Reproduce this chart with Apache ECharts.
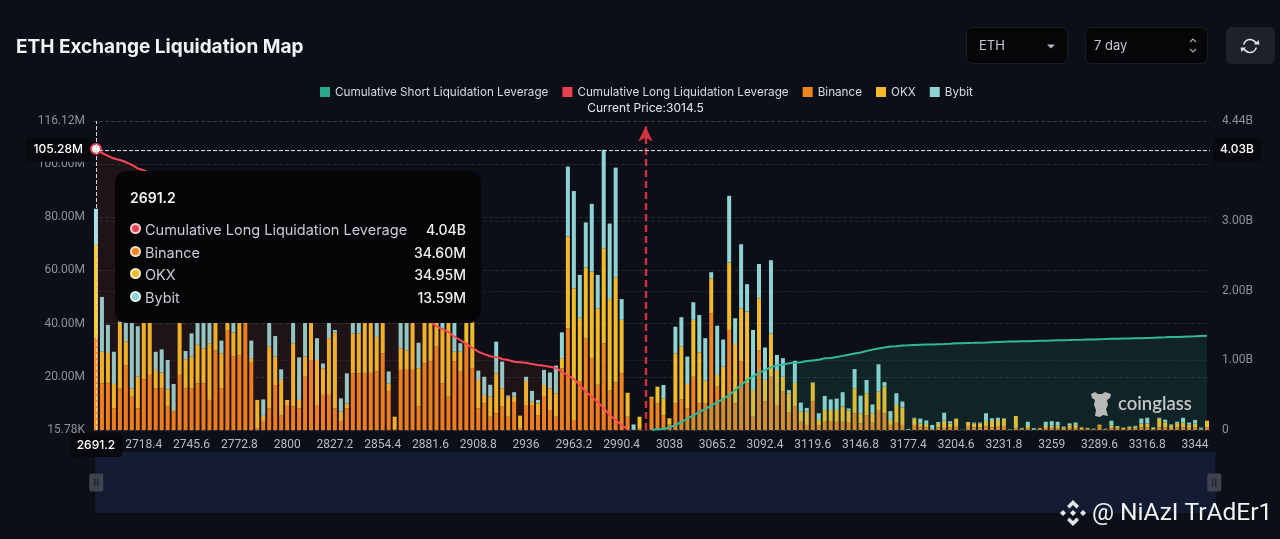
<!DOCTYPE html>
<html><head><meta charset="utf-8">
<style>html,body{margin:0;padding:0;background:#0c0f17;}#c{width:1280px;height:539px;}</style>
<script src="https://cdn.jsdelivr.net/npm/echarts@6/dist/echarts.min.js"></script>
</head><body><div id="c"></div>
<script>
const titleText = 'ETH Exchange Liquidation Map';
const currentPrice = '3014.5';
const axisMinLabel = '15.78K';
const pointerY = 149.85;
const categories = [2691.2,2694.6,2698,2701.4,2704.8,2708.2,2711.6,2715,2718.4,2721.8,2725.2,2728.6,2732,2735.4,2738.8,2742.2,2745.6,2749,2752.4,2755.8,2759.2,2762.6,2766,2769.4,2772.8,2776.2,2779.6,2783,2786.4,2789.8,2793.2,2796.6,2800,2803.4,2806.8,2810.2,2813.6,2817,2820.4,2823.8,2827.2,2830.6,2834,2837.4,2840.8,2844.2,2847.6,2851,2854.4,2857.8,2861.2,2864.6,2868,2871.4,2874.8,2878.2,2881.6,2885,2888.4,2891.8,2895.2,2898.6,2902,2905.4,2908.8,2912.2,2915.6,2919,2922.4,2925.8,2929.2,2932.6,2936,2939.4,2942.8,2946.2,2949.6,2953,2956.4,2959.8,2963.2,2966.6,2970,2973.4,2976.8,2980.2,2983.6,2987,2990.4,2993.8,2997.2,3007.4,3014.5,3021,3024.4,3031.2,3038,3041.4,3044.8,3048.2,3051.6,3055,3058.4,3061.8,3065.2,3068.6,3072,3075.4,3078.8,3082.2,3085.6,3089,3092.4,3095.8,3099.2,3102.6,3106,3109.4,3112.8,3116.2,3119.6,3123,3126.4,3129.8,3133.2,3136.6,3140,3143.4,3146.8,3150.2,3153.6,3157,3160.4,3163.8,3170.6,3174,3177.4,3180.8,3184.2,3187.6,3191,3194.4,3197.8,3201.2,3204.6,3208,3211.4,3214.8,3218.2,3221.6,3225,3228.4,3231.8,3235.2,3238.6,3242,3245.4,3248.8,3252.2,3255.6,3259,3262.4,3265.8,3269.2,3272.6,3276,3279.4,3286.2,3289.6,3293,3296.4,3299.8,3303.2,3306.6,3310,3313.4,3316.8,3320.2,3323.6,3327,3330.4,3333.8,3337.2,3340.6,3344,3347.4,3350.8].map(String);
const binance = [34.6,17.5,17.5,8.1,15.7,24.4,12.5,8.1,19,20.7,15.7,15.7,8.8,6.9,20.7,15.7,15.7,17.5,17.5,11.3,30,15.7,37.6,27.6,28.2,39.6,25.3,0.5,3.1,8.1,16.9,5.6,9.4,8.8,8.1,20,26.3,9.4,13.2,13.2,8.1,3.4,8.1,21.3,21.3,21.3,21.5,22,28.8,14.4,0.3,22.6,22.6,22.6,8.8,25,25.7,31.3,17.5,12.5,25.7,21.9,32.6,23.2,8.1,10,5,6.3,8.8,5,10.5,0.5,9.4,9.4,5.6,12.5,7.5,5,23.2,38.2,3.8,18.2,34.5,27,17,32.6,15,17.9,21.3,5,0,0.5,0,12,10,5.6,2,10,11.5,8.1,20,10,10,43.9,16.3,11.3,37.6,10,25.7,17.5,5,30,10.7,20,9.4,14.4,6.5,8.8,3.1,1.9,10.7,1.9,3.1,3.1,3.1,3.1,3,6.3,2.5,5.6,3,7.5,6.3,1.9,3,1.9,0,1.9,1.2,1,0.1,1,0.8,1,1.5,0,1.2,1,1,1.3,1,1.5,1.5,0.1,0.8,0.2,0.5,0,0.5,0.5,0.6,0.6,0.4,0.6,0.7,0.4,0.3,0.2,1.4,0.2,0.6,0.5,0.4,0.5,0.6,1,1,0.3,1,1,0.8,1,1,0.8,1,0.2,1];
const okx = [34.95,11.9,11.4,9.2,24.5,8.8,3.2,11.9,25,25,6.9,5.9,6.5,0.6,25,10.9,11.9,14.5,13.2,21.3,12,13.1,10,9,21,8,1.7,10.8,2.2,23.2,10.7,13.2,1.9,23.8,3.2,7.6,19,16.9,10,21.3,28.5,3.5,1.9,15,15,25,24,13,15,3.1,4.7,8.1,7.4,21.4,14.4,19,20.3,16.7,20.5,33.5,3.7,7.5,11.4,18.8,10.7,3.2,7.5,15,6.9,7.5,2,4.9,9,1.2,4.4,4.4,8.2,8.8,3.8,34.5,49.5,24,26.5,32.5,28.7,35.7,34.2,39.5,20.1,9,0.1,4.5,0,0.5,6.3,6.3,2.4,18.8,19.8,9.2,21.4,19.2,8.5,13.1,4.4,12.5,25.3,22.3,20,27,10,19.5,8.1,16.3,13.2,5.6,7.3,8.9,3.8,5,7,1.9,4.4,4.4,4.4,5.7,4.3,9.4,3.8,8.2,3.3,6.9,10,1.9,6.4,6.6,0.1,2.5,1.3,1.3,0.3,1.3,2.7,1.5,2.8,0,1.8,1.5,1.5,2.1,2.4,2.3,2.7,0.1,4.5,0.4,1,0.2,0.3,1,1,1,0.6,1.2,1.2,0.6,0.4,0.2,0.6,0.2,1.2,0.7,0.5,0.6,0.7,1.4,1.5,0.5,3.2,1.9,1,1.6,1.8,1.2,1.4,0.3,2.5];
const bybit = [13.59,20.6,10.6,12.1,0.5,13,26,19,0.5,0.5,6.8,8.7,11,9.8,0.3,3.1,8.7,12,15,15,0.3,4.8,2,15,1,0.3,6.6,0,6.2,10.7,7.7,4,0,11.4,16,17,0.7,8.2,1.8,7.5,1,5,11.3,5.7,9.7,0.4,0.5,11,0.2,4.5,0,13.3,12,0,9.6,0,0,0,4,0,12.6,3.2,0,0,3.5,6.8,4.5,11.9,10,0.5,1.7,0,1.6,4.1,1.3,5.7,5.9,10.4,9.7,26.3,36.5,16.1,17,25.5,12.6,37,28.4,41.2,7.8,0,2,0,0,0,0,5,0,10,11.1,10.3,6.6,14,16,2.3,18.5,10.2,25.1,9.7,24.1,10.3,22.6,12.9,12.2,27.5,5.6,7,1.2,8.3,3.4,1.4,0.2,2.5,5.3,4,4.3,5.4,0.8,7.2,6.6,5,3.3,10.3,1.7,3.3,4.4,2.2,0.3,0.2,1.8,1.3,1.5,0.7,3,0.8,0,0.1,0,0.3,0.3,2.9,1,0.8,0.2,0.1,0,0.2,1.6,0.5,0,1.6,1.7,1.5,0.3,0.7,0.9,0,0.1,0.1,0,0.1,1.7,0.3,0,0.2,0.3,1.9,2.1,0.2,0.4,1,0.3,0.5,1.8,0.8,1.4,0.4,0];
const longLev = [4.04,3.98,3.94,3.90,3.88,3.85,3.81,3.76,3.73,3.69,3.65,3.61,3.57,3.54,3.50,3.45,3.40,3.36,3.31,3.27,3.22,3.18,3.13,3.08,3.03,2.98,2.93,2.90,2.88,2.85,2.81,2.78,2.75,2.71,2.67,2.62,2.56,2.51,2.47,2.43,2.38,2.35,2.32,2.27,2.21,2.15,2.09,2.03,1.98,1.95,1.94,1.89,1.84,1.78,1.74,1.64,1.56,1.49,1.45,1.41,1.34,1.29,1.24,1.18,1.125,1.09,1.06,1.05,1.02,1.006,0.98,0.975,0.967,0.948,0.934,0.924,0.91,0.89,0.838,0.78,0.733,0.647,0.55,0.479,0.40,0.314,0.216,0.144,0.072,0.01];
const shortStart = 93;
const shortLev = [0.004,0.01,0.015,0.04,0.07,0.115,0.165,0.21,0.26,0.30,0.35,0.40,0.445,0.50,0.575,0.645,0.72,0.77,0.82,0.86,0.905,0.925,0.94,0.96,0.965,0.975,0.99,1.0,1.01,1.03,1.035,1.05,1.065,1.08,1.10,1.115,1.135,1.155,1.17,1.185,1.20,1.205,1.215,1.218,1.222,1.225,1.228,1.23,1.233,1.236,1.24,1.245,1.248,1.25,1.252,1.255,1.258,1.262,1.265,1.268,1.27,1.272,1.275,1.277,1.28,1.282,1.284,1.287,1.289,1.29,1.292,1.295,1.297,1.30,1.302,1.304,1.306,1.31,1.312,1.314,1.316,1.318,1.32,1.323,1.325,1.33,1.332,1.335,1.337,1.34,1.343,1.346,1.35,1.353];

const C = {short:'#2ba88e', long:'#e9414f', binance:'#ee8420', okx:'#f2bb2a', bybit:'#8fd3d3'};
const fontMain = 'Inter, Roboto, sans-serif';
const fmtM = v => v.toFixed(2)+'M';
const fmtAxisM = v => v === 0 ? axisMinLabel : fmtM(v);
const fmtB = v => v === 0 ? '0' : v.toFixed(2)+'B';
const longData = categories.map((_,i)=> i < longLev.length ? longLev[i] : null);
const shortData = categories.map((_,i)=> i >= shortStart ? shortLev[i-shortStart] : null);

const chart = echarts.init(document.getElementById('c'), null, {renderer:'canvas'});
const dot = (col)=>`<span style="display:inline-block;width:7px;height:7px;border-radius:50%;background:${col};border:2px solid rgba(255,255,255,.75);margin-right:4px;vertical-align:1px"></span>`;
const row = (col,name,val)=>`<div style="display:flex;justify-content:space-between;height:22.6px;line-height:22.6px"><span style="color:#c9ccd1;font-size:14.5px">${dot(col)}${name}</span><span style="color:#f2f2f2;font-weight:500;font-size:14px">${val}</span></div>`;
const top1 = {z:100};

const option = {
  animation:false,
  backgroundColor:'#0c0f17',
  textStyle:{fontFamily:fontMain},
  title:{text:titleText,left:11,top:33,textStyle:{color:'#f1f2f4',fontSize:19,fontWeight:700,fontFamily:'Inter'}},
  legend:{left:315,top:81,icon:'rect',itemWidth:10,itemHeight:10,itemGap:14,
    textStyle:{color:'#d8dade',fontSize:11.7,fontFamily:fontMain},
    data:['Cumulative Short Liquidation Leverage',
      {name:'Cumulative Long Liquidation Leverage',itemStyle:{color:C.long,borderWidth:0}},
      'Binance','OKX','Bybit']},
  grid:{left:93,right:70,top:121,height:309,containLabel:false},
  tooltip:{trigger:'axis',triggerOn:'none',alwaysShowContent:true,position:[115,171],
    backgroundColor:'#050507',borderWidth:0,padding:[17,15,14,15],
    extraCssText:'width:366px;height:152px;box-sizing:border-box;border-radius:12px;box-shadow:none;',
    textStyle:{color:'#fff',fontSize:15,fontFamily:fontMain},
    axisPointer:{type:'cross',crossStyle:{color:'#d5d7da',type:'dashed',width:1},
      lineStyle:{color:'#d5d7da',type:'dashed',width:1},
      label:{backgroundColor:'#08090c',color:'#fff',fontSize:12,fontWeight:500,padding:[6,7,6,7],borderRadius:3,shadowBlur:0,
        formatter:p=> p.axisDimension==='x' ? p.value : (p.axisIndex===0 ? fmtM(p.value) : fmtB(p.value))}},
    formatter:ps=>{
      const i = ps[0].dataIndex;
      return `<div style="font-size:14px;font-weight:600;color:#f4f4f4;height:31px;line-height:20px">${categories[i]}</div>`+
        row(C.long,'Cumulative Long Liquidation Leverage',longData[i].toFixed(2)+'B')+
        row(C.binance,'Binance',fmtM(binance[i]))+
        row(C.okx,'OKX',fmtM(okx[i]))+
        row(C.bybit,'Bybit',fmtM(bybit[i]));
    }},
  xAxis:{type:'category',data:categories,boundaryGap:true,
    axisLine:{show:false},axisTick:{show:false},
    axisLabel:{interval:7,color:'#b9bcc1',fontSize:12,margin:9,fontFamily:'Roboto'},splitLine:{show:false}},
  yAxis:[
    {type:'value',position:'left',min:0,max:116.12,interval:20,
     axisLine:{show:false},axisTick:{show:false},
     axisLabel:{color:'#8e9198',fontSize:12,margin:8,fontFamily:'Roboto',formatter:fmtAxisM,showMinLabel:true,showMaxLabel:true},
     splitLine:{lineStyle:{color:'rgba(255,255,255,.11)',type:'dashed'}}},
    {type:'value',position:'right',min:0,max:4.44,interval:1,
     axisLine:{show:false},axisTick:{show:false},
     axisLabel:{color:'#8e9198',fontSize:12,margin:12,fontFamily:'Roboto',formatter:fmtB,showMinLabel:true,showMaxLabel:true},
     splitLine:{lineStyle:{color:'rgba(255,255,255,.08)',type:'dashed'}}}],
  dataZoom:[{type:'slider',xAxisIndex:0,start:0,end:100,left:94,right:66,top:452,height:61,
    backgroundColor:'#131c33',fillerColor:'#131c33',borderColor:'transparent',showDetail:false,showDataShadow:false,
    brushSelect:false,moveHandleSize:0,handleSize:18,
    handleIcon:'path://M2,0H12a2,2,0,0,1,2,2V16a2,2,0,0,1-2,2H2a2,2,0,0,1-2-2V2A2,2,0,0,1,2,0ZM5,5V13H6V5ZM8,5V13H9V5Z',
    handleStyle:{color:'#3f434d',borderColor:'transparent'}}],
  series:[
    {name:'Cumulative Short Liquidation Leverage',type:'line',yAxisIndex:1,data:shortData,showSymbol:false,z:4,
     lineStyle:{color:C.short,width:2},itemStyle:{color:C.short},areaStyle:{color:'rgba(43,168,142,.17)'}},
    {name:'Cumulative Long Liquidation Leverage',type:'line',yAxisIndex:1,data:longData,showSymbol:false,z:4,symbol:'circle',symbolSize:9,
     lineStyle:{color:C.long,width:2},itemStyle:{color:'#fff',borderColor:C.long,borderWidth:2},areaStyle:{color:'rgba(200,60,30,.13)'},
     markLine:{silent:true,animation:false,symbol:['none','arrow'],symbolSize:[11,15],precision:2,
       lineStyle:{color:'#cf3340',type:[7,4],width:2.4},
       label:{position:'end',distance:12,color:'#e4e6e9',fontSize:12,fontFamily:fontMain,formatter:'Current Price:'+currentPrice},
       data:[[{xAxis:currentPrice,yAxis:0},{xAxis:currentPrice,yAxis:4.36}]]}},
    {name:'Binance',type:'bar',stack:'t',yAxisIndex:0,data:binance,barWidth:4,itemStyle:{color:C.binance}},
    {name:'OKX',type:'bar',stack:'t',yAxisIndex:0,data:okx,barWidth:4,itemStyle:{color:C.okx}},
    {name:'Bybit',type:'bar',stack:'t',yAxisIndex:0,data:bybit,barWidth:4,itemStyle:{color:C.bybit}}
  ],
  graphic:{z:100,elements:[
    {type:'rect',shape:{x:966.5,y:27.5,width:101,height:36,r:6},style:{fill:'#050608',stroke:'#1a1d25'}},
    {type:'text',style:{x:979,y:46,text:'ETH',fill:'#c6c9ce',fontSize:13,fontFamily:fontMain,verticalAlign:'middle'}},
    {type:'polygon',shape:{points:[[1047,44.5],[1055,44.5],[1051,48.5]]},style:{fill:'#b5b8bd'}},
    {type:'rect',shape:{x:1085.5,y:27.5,width:122,height:36,r:6},style:{fill:'#050608',stroke:'#1a1d25'}},
    {type:'text',style:{x:1094,y:46,text:'7 day',fill:'#c6c9ce',fontSize:13,fontFamily:fontMain,verticalAlign:'middle'}},
    {type:'polyline',shape:{points:[[1190,42],[1193,39],[1196,42]]},style:{stroke:'#a8abb1',fill:null,lineWidth:1.2}},
    {type:'polyline',shape:{points:[[1190,49],[1193,52],[1196,49]]},style:{stroke:'#a8abb1',fill:null,lineWidth:1.2}},
    {type:'rect',shape:{x:1226,y:27,width:49,height:37,r:6},style:{fill:'#1d2129'}},
    {type:'arc',shape:{cx:1250,cy:46,r:6.5,startAngle:-2.9,endAngle:-0.35},style:{stroke:'#e3e5e8',fill:null,lineWidth:1.6}},
    {type:'arc',shape:{cx:1250,cy:46,r:6.5,startAngle:0.25,endAngle:2.8},style:{stroke:'#e3e5e8',fill:null,lineWidth:1.6}},
    {type:'polygon',shape:{points:[[1254,44.5],[1259.5,44.5],[1258.5,40]]},style:{fill:'#e3e5e8'}},
    {type:'polygon',shape:{points:[[1240.5,47.5],[1246,47.5],[1241.5,52]]},style:{fill:'#e3e5e8'}},
    {type:'polygon',shape:{points:[[1091,394],[1095,392],[1098,394],[1102,394],[1105,392],[1111,394],[1110,398],[1107,400],[1108,405],[1106,409],[1108,416],[1103,415],[1100,417],[1095,416],[1096,410],[1094,405],[1095,400],[1092,398]]},style:{fill:'#b9b9b9'}},
    {type:'text',style:{x:1118,y:404,text:'coinglass',fill:'#c4c5c6',fontSize:18.5,fontWeight:600,fontFamily:'Lato, Inter',verticalAlign:'middle'}},
    {type:'polygon',shape:{points:[[1073,500],[1079,506],[1076.5,508.5],[1073,505],[1069.5,508.5],[1067,506]]},style:{fill:'#e6e6e6'}},
    {type:'polygon',shape:{points:[[1073,526],[1079,520],[1076.5,517.5],[1073,521],[1069.5,517.5],[1067,520]]},style:{fill:'#e6e6e6'}},
    {type:'polygon',shape:{points:[[1073,510],[1076,513],[1073,516],[1070,513]]},style:{fill:'#e6e6e6'}},
    {type:'polygon',shape:{points:[[1063,510],[1066,513],[1063,516],[1060,513]]},style:{fill:'#e6e6e6'}},
    {type:'polygon',shape:{points:[[1083,510],[1086,513],[1083,516],[1080,513]]},style:{fill:'#e6e6e6'}},
    {type:'text',style:{x:1092,y:514,text:'@ NiAzI TrAdEr1',fill:'#f2f2f2',fontSize:24.5,fontFamily:'Roboto',verticalAlign:'middle'}}
  ].map(e=>Object.assign(e,top1))}
};
chart.setOption(option);
chart.dispatchAction({type:'showTip',x:96,y:pointerY});
</script></body></html>
